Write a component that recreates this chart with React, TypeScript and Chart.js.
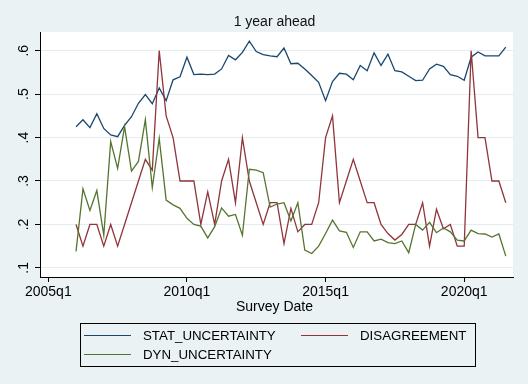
import React, { useEffect, useRef } from 'react';
import { Chart, registerables } from 'chart.js';

Chart.register(...registerables);

// ---------- data ----------
const chartTitle = '1 year ahead';
const xAxisTitle = 'Survey Date';
const firstQuarter = '2006q1';
const lastQuarter = '2021q3';

const statUncertainty = [
  0.425, 0.441, 0.423, 0.455, 0.421, 0.406, 0.402, 0.428, 0.448, 0.479,
  0.499, 0.478, 0.514, 0.485, 0.533, 0.540, 0.585, 0.545, 0.546, 0.545,
  0.546, 0.558, 0.589, 0.579, 0.596, 0.622, 0.598, 0.591, 0.588, 0.586,
  0.606, 0.570, 0.571, 0.558, 0.543, 0.527, 0.485, 0.529, 0.548, 0.546,
  0.533, 0.566, 0.554, 0.595, 0.566, 0.592, 0.554, 0.551, 0.541, 0.531,
  0.532, 0.558, 0.569, 0.564, 0.545, 0.541, 0.532, 0.585, 0.597, 0.588,
  0.588, 0.588, 0.608,
];

const disagreement = [
  0.2, 0.15, 0.2, 0.2, 0.15, 0.2, 0.15, 0.2, 0.25, 0.3,
  0.35, 0.325, 0.6, 0.45, 0.4, 0.3, 0.3, 0.3, 0.2, 0.275,
  0.2, 0.3, 0.35, 0.25, 0.4, 0.3, 0.25, 0.2, 0.25, 0.25,
  0.156, 0.237, 0.183, 0.2, 0.2, 0.25, 0.4, 0.45, 0.25, 0.3,
  0.35, 0.3, 0.25, 0.25, 0.2, 0.179, 0.164, 0.177, 0.2, 0.2,
  0.25, 0.15, 0.235, 0.19, 0.2, 0.15, 0.15, 0.6, 0.4, 0.4,
  0.3, 0.3, 0.25,
];

const dynUncertainty = [
  0.138, 0.282, 0.232, 0.278, 0.175, 0.391, 0.329, 0.425, 0.323, 0.345,
  0.441, 0.285, 0.398, 0.256, 0.245, 0.237, 0.214, 0.2, 0.196, 0.169,
  0.195, 0.238, 0.219, 0.223, 0.175, 0.327, 0.325, 0.319, 0.24, 0.247,
  0.25, 0.208, 0.25, 0.141, 0.133, 0.15, 0.179, 0.21, 0.185, 0.182,
  0.147, 0.183, 0.183, 0.162, 0.166, 0.158, 0.156, 0.162, 0.135, 0.2,
  0.187, 0.205, 0.181, 0.192, 0.183, 0.164, 0.162, 0.187, 0.179, 0.178,
  0.171, 0.178, 0.127,
];

const seriesNames = ['STAT_UNCERTAINTY', 'DISAGREEMENT', 'DYN_UNCERTAINTY'];
const seriesColors = ['#1a476f', '#90353b', '#55752f'];

const yTickValues = [0.1, 0.2, 0.3, 0.4, 0.5, 0.6];
const yTickLabels = ['.1', '.2', '.3', '.4', '.5', '.6'];
const xTickLabels = ['2005q1', '2010q1', '2015q1', '2020q1'];

// ---------- helpers ----------
const qToNum = (s: string) => parseInt(s.slice(0, 4), 10) + (parseInt(s.slice(5), 10) - 1) / 4;

const buildQuarters = (from: string, to: string) => {
  const out: string[] = [];
  const end = qToNum(to);
  let y = parseInt(from.slice(0, 4), 10);
  let q = parseInt(from.slice(5), 10);
  while (y + (q - 1) / 4 <= end + 1e-9) {
    out.push(`${y}q${q}`);
    q += 1;
    if (q > 4) { q = 1; y += 1; }
  }
  return out;
};

const quarters = buildQuarters(firstQuarter, lastQuarter);

const FONT = '"Liberation Sans", Arial, Helvetica, sans-serif';
const BG = '#EAF2F3';

const decorPlugin = {
  id: 'stataDecor',
  beforeDraw(chart: any) {
    const { ctx, chartArea, width, height } = chart;
    ctx.save();
    ctx.fillStyle = BG;
    ctx.fillRect(0, 0, width, height);
    ctx.fillStyle = '#ffffff';
    ctx.fillRect(chartArea.left, chartArea.top, chartArea.right - chartArea.left, chartArea.bottom - chartArea.top);
    ctx.restore();
  },
  afterDraw(chart: any) {
    const { ctx, chartArea, scales } = chart;
    const xs = scales.x;
    const ys = scales.y;
    const midX = (chartArea.left + chartArea.right) / 2 - 2;
    ctx.save();
    ctx.fillStyle = '#111111';
    // title
    ctx.font = `14px ${FONT}`;
    ctx.textAlign = 'center';
    ctx.textBaseline = 'alphabetic';
    ctx.fillText(chartTitle, midX, 26);
    // y labels rotated
    ctx.fillStyle = '#000000';
    ctx.font = `14px ${FONT}`;
    yTickValues.forEach((v, i) => {
      const py = ys.getPixelForValue(v);
      ctx.save();
      ctx.translate(28, py);
      ctx.rotate(-Math.PI / 2);
      ctx.textAlign = 'center';
      ctx.textBaseline = 'alphabetic';
      ctx.fillText(yTickLabels[i], 0, 0);
      ctx.restore();
    });
    // x labels
    ctx.textAlign = 'center';
    ctx.textBaseline = 'alphabetic';
    xTickLabels.forEach((lab) => {
      const px = xs.getPixelForValue(qToNum(lab));
      ctx.fillText(lab, px, 296);
    });
    // x title
    ctx.fillText(xAxisTitle, midX, 311);
    // legend
    const box = { l: 80, t: 323, r: 475, b: 366 };
    ctx.strokeStyle = '#000000';
    ctx.lineWidth = 1;
    ctx.strokeRect(box.l + 0.5, box.t + 0.5, box.r - box.l, box.b - box.t);
    const slots = [
      { lx: 84, tx: 143, y: 335.5 },
      { lx: 301, tx: 360, y: 335.5 },
      { lx: 84, tx: 143, y: 354.5 },
    ];
    ctx.font = `13.3px ${FONT}`;
    ctx.textAlign = 'left';
    ctx.textBaseline = 'middle';
    seriesNames.forEach((name, i) => {
      const s = slots[i];
      ctx.strokeStyle = seriesColors[i];
      ctx.lineWidth = 1.2;
      ctx.beginPath();
      ctx.moveTo(s.lx, s.y);
      ctx.lineTo(s.lx + 47, s.y);
      ctx.stroke();
      ctx.fillStyle = '#000000';
      ctx.fillText(name, s.tx, s.y + 0.5);
    });
    ctx.restore();
  },
};

export default function App() {
  const ref = useRef<HTMLCanvasElement | null>(null);

  useEffect(() => {
    if (!ref.current) return;
    const series = [statUncertainty, disagreement, dynUncertainty];
    const datasets = series.map((vals, k) => ({
      label: seriesNames[k],
      data: vals.map((v, i) => ({ x: qToNum(quarters[i]), y: v })),
      borderColor: seriesColors[k],
      backgroundColor: seriesColors[k],
      borderWidth: 1.3,
      pointRadius: 0,
      tension: 0,
      fill: false,
      order: 3 - k,
    }));

    const chart = new Chart(ref.current, {
      type: 'line',
      data: { datasets },
      options: {
        responsive: false,
        animation: false,
        devicePixelRatio: 1,
        layout: { padding: { top: 32, right: 15, left: 0, bottom: 0 } },
        plugins: {
          legend: { display: false },
          title: { display: false },
          tooltip: { enabled: false },
        },
        scales: {
          x: {
            type: 'linear',
            min: 2004.7,
            max: 2021.76,
            afterFit: (s: any) => { s.height = 107; },
            afterBuildTicks: (s: any) => { s.ticks = xTickLabels.map((q) => ({ value: qToNum(q) })); },
            ticks: { display: false },
            grid: { drawOnChartArea: false, drawTicks: true, tickLength: 5, tickColor: '#000000', color: '#000000' },
            border: { display: true, color: '#000000', width: 1 },
          },
          y: {
            type: 'linear',
            min: 0.079,
            max: 0.643,
            afterFit: (s: any) => { s.width = 40; },
            afterBuildTicks: (s: any) => { s.ticks = yTickValues.map((v) => ({ value: v })); },
            ticks: { display: false },
            grid: { color: '#E3ECEF', lineWidth: 1, drawTicks: true, tickLength: 5, tickColor: '#000000' },
            border: { display: true, color: '#000000', width: 1 },
          },
        },
      } as any,
      plugins: [decorPlugin],
    });
    return () => chart.destroy();
  }, []);

  return (
    <div style={{ position: 'fixed', left: 0, top: 0, width: 528, height: 384 }}>
      <canvas ref={ref} width={528} height={384} style={{ display: 'block', width: 528, height: 384 }} />
    </div>
  );
}
